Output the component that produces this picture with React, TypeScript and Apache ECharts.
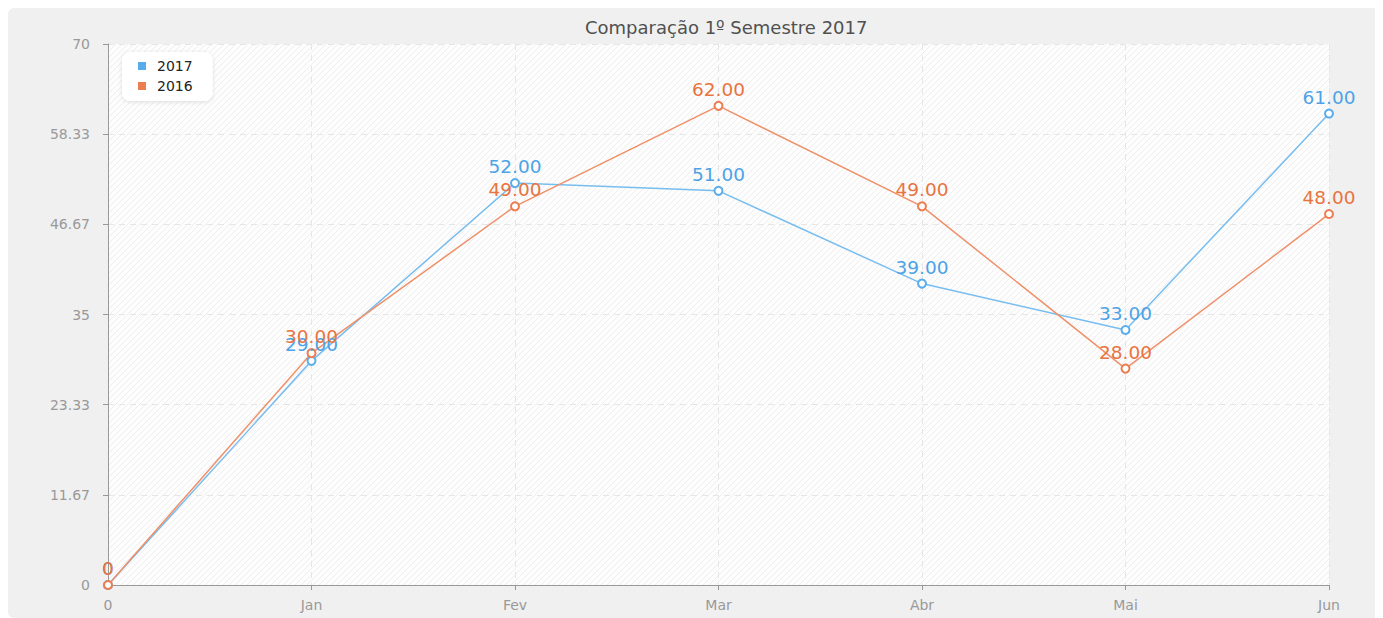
import React, { useEffect, useRef } from "react";
import * as echarts from "echarts";

const categories = ["0", "Jan", "Fev", "Mar", "Abr", "Mai", "Jun"];
const values2017 = [0, 29, 52, 51, 39, 33, 61];
const values2016 = [0, 30, 49, 62, 49, 28, 48];
const seriesNames = ["2017", "2016"];
const titleText = "Comparação 1º Semestre 2017";

function makeHatch(): string {
  const c = document.createElement("canvas");
  c.width = 6;
  c.height = 6;
  const ctx = c.getContext("2d");
  if (ctx) {
    ctx.fillStyle = "#fdfdfd";
    ctx.fillRect(0, 0, 6, 6);
    ctx.strokeStyle = "#eeeeee";
    ctx.lineWidth = 1;
    ctx.beginPath();
    ctx.moveTo(-1, 7);
    ctx.lineTo(7, -1);
    ctx.moveTo(-4, 4);
    ctx.lineTo(4, -4);
    ctx.moveTo(2, 10);
    ctx.lineTo(10, 2);
    ctx.stroke();
  }
  return c.toDataURL();
}

const fmtLabel = (p: any) => (p.value === 0 ? "0" : Number(p.value).toFixed(2));

export default function App() {
  const ref = useRef<HTMLDivElement>(null);
  useEffect(() => {
    if (!ref.current) return;
    const chart = echarts.init(ref.current, null, { renderer: "svg" });
    const font = "DejaVu Sans";
    chart.setOption({
      animation: false,
      backgroundColor: "transparent",
      textStyle: { fontFamily: font },
      title: {
        text: titleText,
        left: 572,
        top: 5,
        textStyle: { fontFamily: font, fontSize: 18, fontWeight: "normal", color: "#505050" },
      },
      legend: {
        orient: "vertical",
        left: 114,
        top: 44,
        data: seriesNames,
        icon: "rect",
        itemWidth: 8,
        itemHeight: 8,
        itemGap: 6,
        backgroundColor: "#ffffff",
        borderRadius: 8,
        padding: [7, 20, 8, 16],
        shadowColor: "rgba(0,0,0,0.12)",
        shadowBlur: 4,
        shadowOffsetY: 1,
        textStyle: { fontFamily: font, fontSize: 14, color: "#222", padding: [0, 0, 0, 6] },
      },
      grid: {
        left: 100,
        right: 54,
        top: 36,
        bottom: 33,
        show: true,
        borderWidth: 0,
        backgroundColor: { image: makeHatch(), repeat: "repeat" } as any,
      },
      xAxis: {
        type: "category",
        data: categories,
        boundaryGap: false,
        axisLine: { lineStyle: { color: "#999", width: 1 } },
        axisTick: { show: true, length: 5, alignWithLabel: true, lineStyle: { color: "#999" } },
        axisLabel: { color: "#999", fontSize: 14, fontFamily: font, margin: 13 },
        splitLine: { show: true, lineStyle: { color: "#e6e6e6", type: [6, 5] } },
      },
      yAxis: {
        type: "value",
        min: 0,
        max: 70,
        interval: 70 / 6,
        axisLine: { show: true, lineStyle: { color: "#999", width: 1 } },
        axisTick: { show: true, length: 5, lineStyle: { color: "#999" } },
        axisLabel: {
          color: "#999",
          fontSize: 14,
          fontFamily: font,
          margin: 18,
          formatter: (v: number) => String(parseFloat(v.toFixed(2))),
        },
        splitLine: { show: true, lineStyle: { color: "#e6e6e6", type: [6, 5] } },
      },
      series: [
        {
          name: seriesNames[0],
          type: "line",
          data: values2017,
          color: "#3598e0",
          symbol: "emptyCircle",
          symbolSize: 8,
          lineStyle: { color: "#78bdf0", width: 1.5 },
          itemStyle: { color: "#5aaded", borderWidth: 1.5 },
          label: {
            show: true,
            position: "top",
            distance: 2,
            fontSize: 18.5,
            fontFamily: font,
            color: "#4da3e6",
            formatter: fmtLabel,
          },
        },
        {
          name: seriesNames[1],
          type: "line",
          data: values2016,
          color: "#e3642f",
          symbol: "emptyCircle",
          symbolSize: 8,
          lineStyle: { color: "#ef9068", width: 1.5 },
          itemStyle: { color: "#ec7d50", borderWidth: 1.5 },
          label: {
            show: true,
            position: "top",
            distance: 2,
            fontSize: 18.5,
            fontFamily: font,
            color: "#e8743f",
            formatter: fmtLabel,
          },
        },
      ],
    });
    return () => chart.dispose();
  }, []);
  return (
    <div
      ref={ref}
      style={{ width: 1375, height: 610, background: "#f0f0f0", borderRadius: 6 }}
    />
  );
}
